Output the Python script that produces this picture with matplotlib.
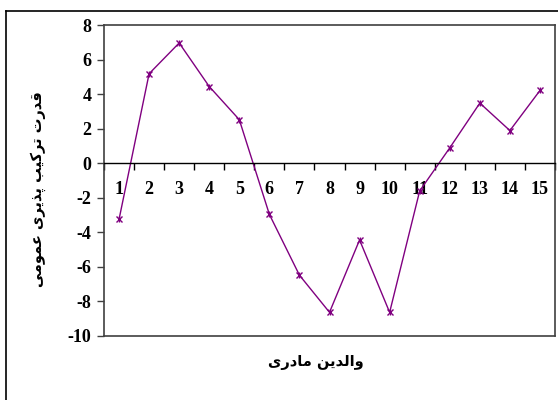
import matplotlib
matplotlib.use("Agg")
import matplotlib.pyplot as plt
from matplotlib.lines import Line2D

categories = [str(i) for i in range(1, 16)]
values = [-3.25, 5.18, 6.96, 4.44, 2.52, -2.96, -6.48, -8.63, -4.44, -8.63, -1.6, 0.89, 3.48, 1.89, 4.21]
yticks = [-10, -8, -6, -4, -2, 0, 2, 4, 6, 8]
ylabel_text = "قدرت ترکیب پذیری عمومی"
xlabel_text = "والدین مادری"

# minimal Arabic/Persian shaping (presentation forms) + visual reordering
FORMS = {
    'ا': ('\uFE8D', '\uFE8E', None, None),
    'ب': ('\uFE8F', '\uFE90', '\uFE91', '\uFE92'),
    'ت': ('\uFE95', '\uFE96', '\uFE97', '\uFE98'),
    'د': ('\uFEA9', '\uFEAA', None, None),
    'ذ': ('\uFEAB', '\uFEAC', None, None),
    'ر': ('\uFEAD', '\uFEAE', None, None),
    'ع': ('\uFEC9', '\uFECA', '\uFECB', '\uFECC'),
    'ق': ('\uFED5', '\uFED6', '\uFED7', '\uFED8'),
    'ل': ('\uFEDD', '\uFEDE', '\uFEDF', '\uFEE0'),
    'م': ('\uFEE1', '\uFEE2', '\uFEE3', '\uFEE4'),
    'ن': ('\uFEE5', '\uFEE6', '\uFEE7', '\uFEE8'),
    'و': ('\uFEED', '\uFEEE', None, None),
    'پ': ('\uFB56', '\uFB57', '\uFB58', '\uFB59'),
    'ک': ('\uFB8E', '\uFB8F', '\uFB90', '\uFB91'),
    'ی': ('\uFBFC', '\uFBFD', '\uFBFE', '\uFBFF'),
}


def shape(text):
    out = []
    n = len(text)
    for i, ch in enumerate(text):
        if ch not in FORMS:
            out.append(ch)
            continue
        prev = text[i - 1] if i > 0 else None
        nxt = text[i + 1] if i < n - 1 else None
        join_prev = prev in FORMS and FORMS[prev][2] is not None
        join_next = nxt in FORMS and FORMS[ch][2] is not None
        iso, fin, ini, med = FORMS[ch]
        if join_prev and join_next:
            out.append(med)
        elif join_prev:
            out.append(fin)
        elif join_next:
            out.append(ini)
        else:
            out.append(iso)
    return ''.join(out)[::-1]


fig = plt.figure(figsize=(5.58, 4.0), dpi=100)
ax = fig.add_axes([104 / 558, 1 - 336 / 400, (555 - 104) / 558, (336 - 25) / 400])

x = list(range(1, len(values) + 1))
ax.plot(x, values, color='#800080', lw=1.0, marker='x', ms=5, mew=1.0)
ax.plot(x, values, color='#800080', lw=0, marker='|', ms=5, mew=1.0)

ax.set_xlim(0.5, 15.5)
ax.set_ylim(-10, 8)

ax.spines['bottom'].set_position(('data', 0))
ax.spines['bottom'].set_color('black')
ax.spines['bottom'].set_linewidth(1.0)
for s in ['top', 'right', 'left']:
    ax.spines[s].set_color('#404040')
    ax.spines[s].set_linewidth(1.2)
ax.add_line(Line2D([0, 1], [0, 0], transform=ax.transAxes, color='#404040', lw=1.2, clip_on=False))

ax.set_xticks([i + 0.5 for i in range(0, 16)])
ax.set_xticklabels([])
ax.set_xticks(x, minor=True)
ax.set_xticklabels(categories, minor=True, fontfamily='Liberation Serif', fontweight='bold', fontsize=13)
ax.tick_params(axis='x', which='major', direction='out', length=5, width=1, color='black')
ax.tick_params(axis='x', which='minor', length=0, pad=13)

ax.set_yticks(yticks)
ax.set_yticklabels([str(v) for v in yticks], fontfamily='Liberation Serif', fontweight='bold', fontsize=13)
ax.tick_params(axis='y', direction='out', length=5, width=1, color='#404040', pad=4)

fig.text(38 / 558, 1 - 189 / 400, shape(ylabel_text), rotation=90, ha='center', va='center',
         fontfamily='DejaVu Sans', fontweight='bold', fontsize=10.5)
fig.text(316 / 558, 1 - 363 / 400, shape(xlabel_text), ha='center', va='center',
         fontfamily='DejaVu Sans', fontweight='bold', fontsize=10.5)

# outer chart-area border (top and left visible, extends past the image)
fig.add_artist(Line2D([6 / 558, 6 / 558], [0, 1 - 11 / 400], transform=fig.transFigure, color='black', lw=1.2))
fig.add_artist(Line2D([6 / 558, 1], [1 - 11 / 400, 1 - 11 / 400], transform=fig.transFigure, color='black', lw=1.2))

fig.savefig('out.png', dpi=100)
